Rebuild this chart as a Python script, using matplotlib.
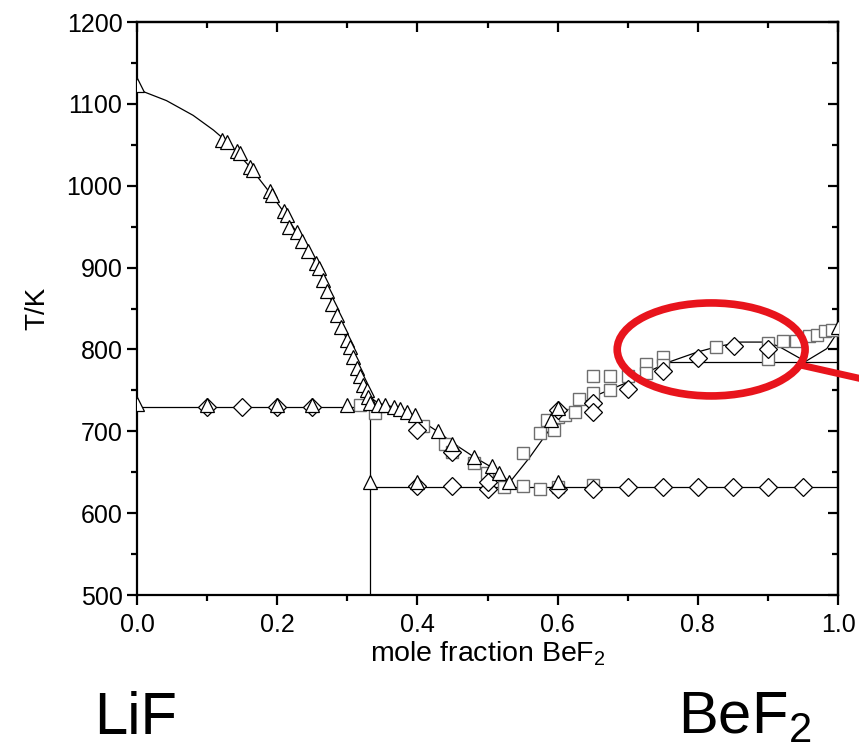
import matplotlib
matplotlib.use("Agg")
import matplotlib.pyplot as plt
from matplotlib.patches import Ellipse

plt.rcParams['font.family'] = ['Liberation Sans', 'DejaVu Sans']
plt.rcParams['mathtext.fontset'] = 'custom'
plt.rcParams['mathtext.rm'] = 'Liberation Sans'
plt.rcParams['mathtext.it'] = 'Liberation Sans:italic'

# --- data (x = mole fraction BeF2, T in K) ---
# triangles
tri_x = [0.0, 0.121, 0.128, 0.142, 0.147, 0.161, 0.166, 0.190, 0.192, 0.209, 0.2135,
         0.217, 0.228, 0.235, 0.2445, 0.256, 0.259, 0.266, 0.2706, 0.2786, 0.285,
         0.2906, 0.299, 0.304, 0.3086, 0.3134, 0.318, 0.3228, 0.3277, 0.330, 0.332,
         0.344, 0.354, 0.366, 0.375, 0.385, 0.397, 0.430, 0.449, 0.480, 0.506,
         0.516, 0.531, 0.5906, 0.6006, 1.0,
         0.0, 0.1, 0.2, 0.25, 0.3, 0.333, 0.4, 0.6]
tri_T = [1123, 1056, 1054, 1042, 1040, 1023, 1019, 993, 989, 969, 964,
         950, 944, 933, 920, 905, 899, 885, 872, 856, 842,
         828, 812, 803, 791, 777, 767, 757, 750, 742, 734,
         732, 732, 730, 727, 724, 720, 700, 685, 669, 657,
         649, 638, 714, 728, 828,
         733, 732, 732, 732, 732, 638, 638, 638]

# diamonds
dia_x = [0.1, 0.15, 0.2, 0.25,
         0.4, 0.45, 0.5, 0.6, 0.65, 0.7, 0.75, 0.8, 0.85, 0.9, 0.95,
         0.399, 0.45, 0.5, 0.6, 0.651, 0.651, 0.70, 0.751, 0.80, 0.851, 0.9006]
dia_T = [730, 730, 730, 730,
         633, 633, 629, 629, 630, 632, 632, 632, 632, 632, 632,
         701, 675, 638, 726, 735, 724, 752, 774, 789, 804, 801]

# squares
sq_x = [0.318, 0.3395, 0.408, 0.4394, 0.449, 0.48, 0.499, 0.524, 0.55, 0.575,
        0.6, 0.65, 0.55, 0.575, 0.5845, 0.595, 0.601, 0.6106, 0.625, 0.63,
        0.651, 0.651, 0.675, 0.675, 0.70, 0.726, 0.726, 0.751, 0.751, 0.826,
        0.9006, 0.9006, 0.921, 0.94, 0.959, 0.9705, 0.9815, 0.991]
sq_T = [732, 722, 706, 685, 675, 661, 649, 632, 633, 629,
        632, 634, 673, 698, 714, 702, 718, 720, 724, 739,
        767, 747, 767, 750, 767, 782, 771, 791, 781, 803,
        808, 788, 810, 810, 816, 818, 822, 824]

# liquidus, LiF side
liq1_x = [0.0, 0.042, 0.08, 0.109, 0.128, 0.16, 0.19, 0.21, 0.235, 0.256, 0.271,
          0.285, 0.299, 0.31, 0.32, 0.328, 0.335, 0.345, 0.36, 0.375, 0.39, 0.40,
          0.43, 0.45, 0.48, 0.506, 0.52, 0.532]
liq1_T = [1118, 1104, 1086, 1068, 1054, 1024, 991, 967, 933, 904, 873,
          843, 812, 788, 766, 750, 740, 734, 731, 727, 722, 716,
          699, 686, 669, 656, 646, 638]

# liquidus, BeF2 side
liq2_x = [0.532, 0.56, 0.585, 0.6, 0.627, 0.65, 0.7, 0.727, 0.76, 0.8, 0.826,
          0.86, 0.9, 0.917, 0.946, 0.953, 0.984, 1.0]
liq2_T = [638, 668, 698, 713, 730, 742, 760, 772, 785, 797, 803,
          809, 809, 803, 789, 785, 801, 822]

# invariant lines
peritectic_T = 730
eutectic_T = 632
transition_T = 785
compound_x = 0.333

fig = plt.figure(figsize=(8.59, 7.49), dpi=100)
ax = fig.add_axes([0.1595, 0.2056, 0.8161, 0.765])

lw = 0.9
ax.plot(liq1_x, liq1_T, color='black', lw=lw, zorder=2)
ax.plot(liq2_x, liq2_T, color='black', lw=lw, zorder=2)
ax.plot([0, compound_x], [peritectic_T, peritectic_T], color='black', lw=lw, zorder=2)
ax.plot([compound_x, compound_x], [500, peritectic_T], color='black', lw=lw, zorder=2)
ax.plot([compound_x, 1.0], [eutectic_T, eutectic_T], color='black', lw=lw, zorder=2)
ax.plot([0.76, 1.0], [transition_T, transition_T], color='black', lw=lw, zorder=2)

ax.plot(sq_x, sq_T, ls='none', marker='s', ms=8.2, mfc='white', mec='#6e6e6e',
        mew=1.0, zorder=3)
ax.plot(dia_x, dia_T, ls='none', marker='D', ms=8.8, mfc='white', mec='black',
        mew=0.9, zorder=4)
ax.plot(tri_x, tri_T, ls='none', marker='^', ms=10, mfc='white', mec='black',
        mew=0.9, zorder=5)

# red highlight
ax.add_patch(Ellipse((0.819, 800), 0.268, 113.6, fill=False, ec='#e8141c',
                     lw=5.5, zorder=6, clip_on=False))
ax.plot([0.946, 1.06], [781, 759], color='#e8141c', lw=5, zorder=6,
        solid_capstyle='butt', clip_on=False)

ax.set_xlim(0, 1.0)
ax.set_ylim(500, 1200)
ax.set_xticks([0.0, 0.2, 0.4, 0.6, 0.8, 1.0])
ax.set_xticks([0.1, 0.3, 0.5, 0.7, 0.9], minor=True)
ax.set_yticks(range(500, 1201, 100))
ax.set_yticks(range(550, 1200, 100), minor=True)
ax.set_xticklabels(['0.0', '0.2', '0.4', '0.6', '0.8', '1.0'])

for s in ax.spines.values():
    s.set_linewidth(1.6)
ax.tick_params(which='both', direction='out', width=1.6, labelsize=18)
ax.tick_params(which='major', length=7)
ax.tick_params(which='minor', length=4)
ax.tick_params(axis='x', which='major', pad=6)

# inward ticks on top and right, no labels
axt = ax.secondary_xaxis('top')
axt.set_xticks([0.0, 0.2, 0.4, 0.6, 0.8, 1.0])
axt.set_xticks([0.1, 0.3, 0.5, 0.7, 0.9], minor=True)
axt.tick_params(which='both', direction='in', width=1.6, labeltop=False)
axt.tick_params(which='major', length=7)
axt.tick_params(which='minor', length=4)
axt.spines['top'].set_linewidth(1.6)
axr = ax.secondary_yaxis('right')
axr.set_yticks(range(500, 1201, 100))
axr.set_yticks(range(550, 1200, 100), minor=True)
axr.tick_params(which='both', direction='in', width=1.6, labelright=False)
axr.tick_params(which='major', length=7)
axr.tick_params(which='minor', length=4)
axr.spines['right'].set_linewidth(1.6)

ax.set_xlabel('mole fraction BeF$_2$', fontsize=20.5, labelpad=2)
ax.set_ylabel('T/K', fontsize=20, labelpad=12)

fig.text(0.158, 0.02, 'LiF', fontsize=43, ha='center', va='baseline')
fig.text(0.789, 0.02, 'BeF$_2$', fontsize=43, ha='left', va='baseline')

fig.savefig('out.png', dpi=100)
